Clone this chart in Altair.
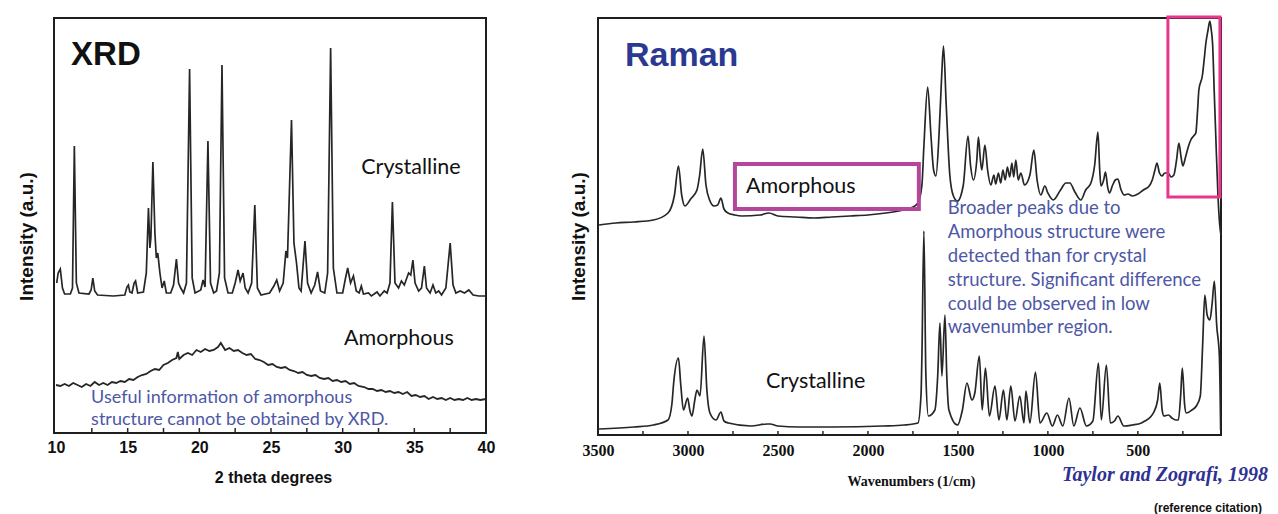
import altair as alt
import pandas as pd

# ---------------- XRD (left panel) ----------------
xrd_cryst_theta = [10.05, 10.15, 10.3, 10.45, 10.6, 11.0, 11.15, 11.28, 11.42, 11.6, 12.3, 12.45, 12.57, 12.7,
                   12.9, 14.0, 14.8, 14.95, 15.05, 15.15, 15.3, 15.45, 15.55, 15.7, 16.1, 16.3, 16.45, 16.55,
                   16.62, 16.76, 16.9, 17.0, 17.1, 17.25, 17.4, 17.55, 17.7, 18.0, 18.2, 18.4, 18.55, 18.7,
                   18.9, 19.1, 19.32, 19.5, 19.7, 20.1, 20.26, 20.4, 20.6, 20.78, 21.0, 21.2, 21.4, 21.58,
                   21.76, 22.0, 22.3, 22.5, 22.7, 22.85, 23.05, 23.2, 23.4, 23.65, 23.87, 24.05, 24.3, 24.9,
                   25.2, 25.4, 25.6, 25.85, 26.04, 26.15, 26.43, 26.6, 26.78, 26.95, 27.1, 27.37, 27.55, 27.8,
                   28.05, 28.25, 28.45, 28.75, 28.95, 29.16, 29.35, 29.6, 30.0, 30.2, 30.35, 30.55, 30.75,
                   30.95, 31.15, 31.3, 31.45, 31.8, 32.0, 32.4, 32.6, 32.9, 33.1, 33.3, 33.47, 33.65, 33.9,
                   34.1, 34.3, 34.6, 34.75, 34.9, 35.05, 35.3, 35.5, 35.7, 35.85, 36.1, 36.3, 36.5, 36.7,
                   36.9, 37.2, 37.5, 37.7, 37.9, 38.2, 38.5, 38.8, 39.1, 39.5, 40.0]
xrd_cryst_int = [150, 160, 164, 145, 139, 139, 145, 287, 150, 140, 139, 143, 155, 142,
                 138, 137, 138, 146, 148, 141, 140, 150, 152, 140, 141, 160, 225, 185,
                 195, 271, 200, 175, 180, 160, 145, 152, 140, 140, 148, 174, 150, 145,
                 140, 150, 364, 155, 140, 143, 153, 146, 292, 150, 140, 142, 160, 368,
                 155, 140, 140, 150, 163, 152, 160, 145, 140, 150, 228, 145, 138, 140,
                 147, 153, 142, 150, 182, 175, 313, 190, 170, 145, 142, 192, 150, 140,
                 148, 161, 142, 140, 160, 385, 165, 140, 140, 155, 165, 150, 157,
                 142, 140, 147, 139, 140, 137, 141, 137, 142, 140, 150, 231, 150, 145,
                 152, 148, 160, 158, 173, 150, 142, 145, 167, 145, 140, 148, 140, 142,
                 138, 145, 190, 148, 140, 142, 140, 143, 138, 137, 137]

xrd_amor_theta = [10.0, 10.3, 10.6, 10.9, 11.2, 11.5, 11.8, 12.1, 12.4, 12.7, 13.0, 13.3, 13.6, 13.9,
                  14.2, 14.5, 14.8, 15.1, 15.4, 15.7, 16.0, 16.3, 16.6, 16.9, 17.2, 17.5, 17.8, 18.1,
                  18.4, 18.5, 18.6, 18.9, 19.2, 19.5, 19.8, 20.1, 20.4, 20.7, 21.0, 21.3, 21.5, 21.8,
                  22.1, 22.4, 22.7, 23.0, 23.3, 23.6, 23.9, 24.2, 24.5, 24.8, 25.1, 25.4, 25.7, 26.0,
                  26.3, 26.6, 26.9, 27.2, 27.5, 27.8, 28.1, 28.4, 28.7, 29.0, 29.3, 29.6, 29.9, 30.2,
                  30.5, 30.8, 31.1, 31.5, 31.8, 32.1, 32.4, 32.7, 33.0, 33.3, 33.6, 33.9, 34.2, 34.5,
                  34.8, 35.1, 35.4, 35.7, 36.0, 36.3, 36.6, 36.9, 37.2, 37.5, 37.8, 38.1, 38.4, 38.7,
                  39.0, 39.3, 39.6, 40.0]
xrd_amor_int = [48, 47, 49, 47, 50, 48, 46, 49, 47, 51, 48, 50, 48, 51,
                50, 52, 51, 54, 53, 56, 58, 59, 62, 64, 63, 68, 70, 73,
                75, 81, 74, 78, 80, 78, 83, 81, 84, 82, 83, 86, 90, 83,
                85, 82, 83, 80, 78, 79, 74, 73, 71, 68, 69, 66, 65, 66,
                63, 62, 60, 61, 58, 57, 58, 55, 54, 55, 52, 53, 51, 52,
                49, 50, 47, 46, 44, 44, 42, 43, 41, 42, 40, 41, 39, 41,
                37, 38, 36, 37, 34, 36, 34, 35, 33, 35, 33, 34, 33, 35,
                33, 34, 33, 34]

xrd_tick_labels = [10, 15, 20, 25, 30, 35, 40]
xrd_minor_ticks = [12.5, 15, 17.5, 20, 22.5, 25, 27.5, 30, 32.5, 35, 37.5]

# ---------------- Raman (right panel) ----------------
raman_amor_wn = [3494, 3400, 3300, 3192, 3111, 3075, 3053, 3035, 3017, 2985, 2950, 2935, 2918, 2900,
                 2880, 2855, 2835, 2817, 2800, 2778, 2740, 2700, 2600, 2550, 2500, 2400, 2300, 2200,
                 2100, 2000, 1900, 1803, 1760, 1722, 1700, 1689, 1668, 1650, 1635, 1622, 1605, 1590,
                 1580, 1565, 1545, 1525, 1502, 1470, 1444, 1430, 1414, 1395, 1386, 1375, 1367, 1350,
                 1335, 1317, 1300, 1290, 1275, 1262, 1250, 1237, 1225, 1212, 1200, 1190, 1178, 1165,
                 1150, 1130, 1100, 1078, 1060, 1039, 1017, 1000, 970, 930, 900, 878, 850, 817, 790,
                 761, 740, 722, 712, 705, 690, 680, 668, 658, 640, 625, 611, 595, 576, 555, 530, 500,
                 470, 437, 420, 405, 394, 380, 366, 350, 333, 315, 300, 285, 272, 260, 250, 235, 220,
                 206, 190, 178, 168, 161, 141, 130, 122, 110, 100, 92, 85, 75, 67, 55, 45, 38]
raman_amor_int = [210, 212, 213, 215, 222, 240, 269, 240, 229, 236, 245, 260, 286, 250,
                  235, 229, 230, 237, 226, 222, 220, 219, 220, 222, 219, 218, 217, 218,
                  219, 220, 222, 225, 227, 232, 250, 289, 348, 300, 265, 259, 300, 360,
                  389, 330, 260, 239, 234, 250, 299, 270, 255, 275, 298, 275, 265, 290,
                  265, 250, 260, 251, 262, 252, 265, 255, 268, 258, 272, 258, 275, 255,
                  262, 250, 260, 285, 255, 240, 249, 242, 235, 245, 252, 252, 243, 235, 245,
                  252, 270, 303, 265, 249, 255, 263, 248, 242, 250, 255, 256, 246, 240, 241, 239, 241,
                  245, 249, 255, 265, 272, 262, 259, 262, 262, 258, 260, 275, 292, 278, 269, 278, 288,
                  295, 299, 302, 325, 345, 360, 378, 392, 405, 414, 405, 392, 340, 299, 240, 210, 200]

raman_cryst_wn = [3494, 3300, 3192, 3111, 3090, 3078, 3053, 3040, 3025, 3002, 2990, 2978, 2962, 2950,
                  2933, 2911, 2895, 2878, 2844, 2817, 2800, 2775, 2650, 2560, 2544, 2500, 2383, 2200,
                  1917, 1800, 1722, 1705, 1700, 1689, 1678, 1664, 1628, 1612, 1600, 1589, 1572, 1562,
                  1550, 1502, 1475, 1450, 1422, 1406, 1381, 1365, 1347, 1325, 1294, 1272, 1247, 1228,
                  1206, 1183, 1156, 1133, 1122, 1100, 1069, 1044, 1006, 975, 947, 917, 883, 856, 822,
                  786, 750, 719, 703, 675, 653, 630, 611, 578, 530, 480, 461, 430, 414, 390, 378, 365,
                  355, 330, 311, 290, 275, 262, 253, 240, 231, 200, 175, 153, 140, 128, 115, 100, 88,
                  75, 62, 47, 40]
raman_cryst_int = [6, 8, 10, 15, 30, 55, 77, 50, 25, 37, 25, 19, 35, 45,
                   39, 99, 45, 22, 15, 23, 14, 12, 9, 11, 11, 9, 8, 8,
                   9, 10, 12, 40, 79, 204, 60, 19, 25, 60, 112, 59, 120, 60,
                   25, 10, 25, 52, 35, 42, 79, 25, 67, 19, 49, 15, 45, 15,
                   49, 14, 39, 12, 44, 12, 63, 12, 22, 9, 20, 9, 37, 9, 27,
                   9, 14, 72, 15, 70, 12, 14, 19, 9, 10, 12, 14, 18, 22, 35, 52, 25,
                   19, 20, 17, 15, 15, 40, 67, 30, 22, 25, 29, 39, 90, 140, 120, 115, 130,
                   154, 110, 79, 5]

raman_tick_labels = [3500, 3000, 2500, 2000, 1500, 1000, 500]
raman_minor_ticks = [3250, 3000, 2750, 2500, 2250, 2000, 1750, 1500, 1250, 1000, 750, 500, 250]

# annotation texts
xrd_blue_lines = ["Useful information of amorphous", "structure cannot be obtained by XRD."]
raman_blue_lines = ["Broader peaks due to", "Amorphous structure were", "detected than for crystal",
                    "structure. Significant difference", "could be observed in low",
                    "wavenumber region."]

BLUE = "#4E57A6"
LINE = "#262626"
SANS = "Liberation Sans"
CAL = "Lato"

# ---------------- encodings ----------------
xl = alt.X("x:Q", scale=alt.Scale(domain=[9.86, 40], nice=False, zero=False),
           axis=alt.Axis(values=xrd_tick_labels, format="d", ticks=False, domain=False, grid=False,
                         labelFont=SANS, labelFontWeight="bold", labelFontSize=16, labelColor="#111",
                         labelPadding=6, labelFlush=False, labelOverlap=False,
                         title="2 theta degrees", titleFont=SANS, titleFontSize=16,
                         titleFontWeight="bold", titleColor="#111", titleBaseline="middle",
                         titleX=219, titleY=44))
yl = alt.Y("y:Q", scale=alt.Scale(domain=[0, 415], nice=False, zero=False),
           axis=alt.Axis(labels=False, ticks=False, domain=False, grid=False,
                         title="Intensity (a.u.)", titleFont=SANS, titleFontSize=19,
                         titleFontWeight="bold", titleColor="#111", titleAngle=270,
                         titleBaseline="middle", titleAlign="center", titleX=-28, titleY=218))

xr = alt.X("x:Q", scale=alt.Scale(domain=[38, 3500], reverse=True, nice=False, zero=False),
           axis=alt.Axis(values=raman_tick_labels, format="d", ticks=False, domain=False, grid=False,
                         labelFont="Liberation Serif", labelFontWeight="bold", labelFontSize=16,
                         labelColor="#111", labelPadding=7, labelFlush=False, labelOverlap=False,
                         title="Wavenumbers (1/cm)", titleFont="Liberation Serif", titleFontSize=14,
                         titleFontWeight="bold", titleColor="#111", titleBaseline="middle",
                         titleX=313, titleY=46))
yr = alt.Y("y:Q", scale=alt.Scale(domain=[0, 417], nice=False, zero=False),
           axis=alt.Axis(labels=False, ticks=False, domain=False, grid=False,
                         title="Intensity (a.u.)", titleFont=SANS, titleFontSize=19,
                         titleFontWeight="bold", titleColor="#111", titleAngle=270,
                         titleBaseline="middle", titleAlign="center", titleX=-20, titleY=218))

# ---------------- left panel ----------------
df_xc = pd.DataFrame({"x": xrd_cryst_theta, "y": xrd_cryst_int})
df_xa = pd.DataFrame({"x": xrd_amor_theta, "y": xrd_amor_int})
df_xt = pd.DataFrame({"x": xrd_minor_ticks, "y": [0] * len(xrd_minor_ticks), "y2": [5] * len(xrd_minor_ticks)})

l_cryst = alt.Chart(df_xc).mark_line(color=LINE, strokeWidth=1.7).encode(x=xl, y=yl)
l_amor = alt.Chart(df_xa).mark_line(color=LINE, strokeWidth=1.8).encode(x=xl, y=yl)
l_ticks = alt.Chart(df_xt).mark_rule(color=LINE, strokeWidth=1.5).encode(x=xl, y=yl, y2="y2:Q")

l_title = alt.Chart(pd.DataFrame({"x": [11.05], "y": [368], "t": ["XRD"]})).mark_text(
    align="left", baseline="alphabetic", font=SANS, fontSize=33, fontWeight="bold", color="#111"
).encode(x=xl, y=yl, text="t:N")
l_labels = alt.Chart(pd.DataFrame({"x": [31.3, 30.1], "y": [265, 94], "t": ["Crystalline", "Amorphous"]})).mark_text(
    align="left", baseline="middle", font=CAL, fontSize=21.5, color="#111"
).encode(x=xl, y=yl, text="t:N")
l_blue = alt.Chart(pd.DataFrame({"x": [12.45, 12.45], "y": [35, 13], "t": xrd_blue_lines})).mark_text(
    align="left", baseline="middle", font=CAL, fontSize=18, color=BLUE
).encode(x=xl, y=yl, text="t:N")

left = alt.layer(l_cryst, l_amor, l_ticks, l_title, l_labels, l_blue).properties(width=432, height=415)

# ---------------- right panel ----------------
df_ra = pd.DataFrame({"x": raman_amor_wn, "y": raman_amor_int})
df_rc = pd.DataFrame({"x": raman_cryst_wn, "y": raman_cryst_int})
df_rt = pd.DataFrame({"x": raman_minor_ticks, "y": [0] * len(raman_minor_ticks), "y2": [4] * len(raman_minor_ticks)})

r_amor = alt.Chart(df_ra).mark_line(color=LINE, strokeWidth=1.7, interpolate="monotone").encode(x=xr, y=yr)
r_cryst = alt.Chart(df_rc).mark_line(color=LINE, strokeWidth=1.7, interpolate="monotone").encode(x=xr, y=yr)
r_ticks = alt.Chart(df_rt).mark_rule(color=LINE, strokeWidth=1.5).encode(x=xr, y=yr, y2="y2:Q")

r_box = alt.Chart(pd.DataFrame({"x": [2739], "x2": [1717], "y": [271], "y2": [226]})).mark_rect(
    fill="transparent", stroke="#B4479C", strokeWidth=4
).encode(x=xr, x2="x2:Q", y=yr, y2="y2:Q")
r_pink = alt.Chart(pd.DataFrame({"x": [333], "x2": [44], "y": [418], "y2": [238]})).mark_rect(
    fill="transparent", stroke="#E8368C", strokeWidth=3
).encode(x=xr, x2="x2:Q", y=yr, y2="y2:Q")

r_title = alt.Chart(pd.DataFrame({"x": [3350], "y": [369], "t": ["Raman"]})).mark_text(
    align="left", baseline="alphabetic", font=SANS, fontSize=34, fontWeight="bold", color="#2B3990"
).encode(x=xr, y=yr, text="t:N")
r_labels = alt.Chart(pd.DataFrame({"x": [2678, 2567], "y": [248, 53], "t": ["Amorphous", "Crystalline"]})).mark_text(
    align="left", baseline="middle", font=CAL, fontSize=21.5, color="#111"
).encode(x=xr, y=yr, text="t:N")
r_blue = alt.Chart(pd.DataFrame({"x": [1556] * 6, "y": [227, 203, 179, 155, 131, 108], "t": raman_blue_lines})).mark_text(
    align="left", baseline="middle", font=CAL, fontSize=18.5, color=BLUE
).encode(x=xr, y=yr, text="t:N")

r_cite = alt.Chart(pd.DataFrame({"t": ["Taylor and Zografi, 1998"]})).mark_text(
    align="right", baseline="middle", font="Liberation Serif", fontSize=20, fontWeight="bold",
    fontStyle="italic", color="#2E3192"
).encode(x=alt.value(670), y=alt.value(457), text="t:N")
r_cite2 = alt.Chart(pd.DataFrame({"t": ["(reference  citation)"]})).mark_text(
    align="right", baseline="middle", font=SANS, fontSize=12, fontWeight="bold", color="#111"
).encode(x=alt.value(664), y=alt.value(490), text="t:N")

right = alt.layer(r_amor, r_cryst, r_ticks, r_box, r_pink, r_title, r_labels, r_blue,
                  r_cite, r_cite2).properties(width=623, height=417)

chart = alt.hconcat(left, right, spacing=112, bounds="flush").properties(
    padding={"left": 8, "top": 6, "right": 0, "bottom": 0},
    autosize=alt.AutoSizeParams(type="pad"),
    background="white",
).configure_view(stroke="#1e1e1e", strokeWidth=2)

chart.save("out.html", embed_options={"renderer": "svg", "actions": False})
